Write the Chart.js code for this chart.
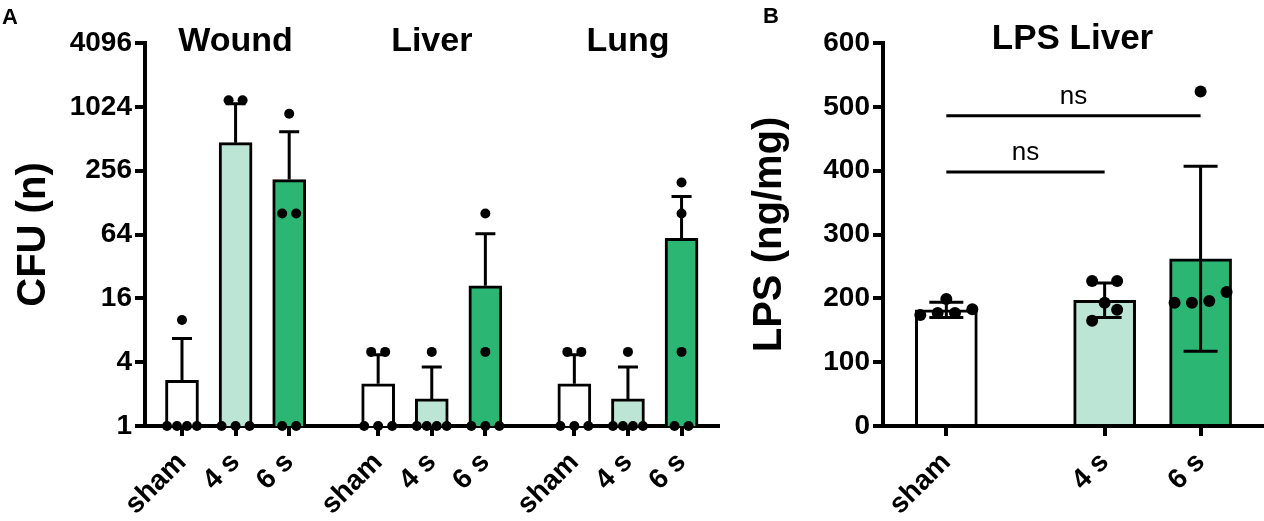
<!DOCTYPE html>
<html>
<head>
<meta charset="utf-8">
<script src="https://cdn.jsdelivr.net/npm/chart.js@4.4.1/dist/chart.umd.min.js"></script>
<style>
  html, body { margin: 0; padding: 0; background: #fff; }
  body { width: 1264px; height: 521px; position: relative; overflow: hidden; }
  canvas { position: absolute; top: 0; }
  #chartA { left: 0; }
  #chartB { left: 745px; }
</style>
</head>
<body>
<canvas id="chartA" width="735" height="521"></canvas>
<canvas id="chartB" width="519" height="521"></canvas>
<script>
// ---- data (A: CFU, log2 axis) ----
const cfuGroups = ['Wound', 'Liver', 'Lung'];
const treatments = ['sham', '4 s', '6 s'];
const cfuMean = [2.7, 470, 211, 2.5, 1.8, 21, 2.5, 1.8, 59];
const cfuUpper = [6.7, 1097, 596, 4.7, 3.6, 65, 4.7, 3.6, 146];
const cfuPoints = [
    [10, 1, 1, 1, 1], [1180, 1180, 1, 1, 1], [880, 101, 101, 1, 1],
    [5, 5, 1, 1, 1], [5, 1, 1, 1, 1], [101, 5, 1, 1, 1],
    [5, 5, 1, 1, 1], [5, 1, 1, 1, 1], [198, 101, 5, 1, 1]
];
const cfuTicks = [1, 4, 16, 64, 256, 1024, 4096];

// ---- data (B: LPS liver) ----
const lpsMean = [182, 197, 262];
const lpsSd = [12, 27, 145];
const lpsPoints = [
    [174, 183, 199, 177, 177],
    [227, 227, 193, 182, 165],
    [193, 210, 193, 196, 524]
];
const sigFrom = [0, 0];
const sigTo = [1, 2];
const sigLevel = [398, 486];
const sigText = ['ns', 'ns'];

// ---- layout ----
const FONT = '"Liberation Sans", Arial, Helvetica, sans-serif';
const fills = ['#ffffff', '#bde5d6', '#2bb673'];
const groupStep = 3.66;
const xPosA = [];
cfuGroups.forEach((g, gi) => treatments.forEach((t, ti) => xPosA.push(gi * groupStep + ti)));
const labelsA = xPosA.map((_, i) => treatments[i % 3]);
const xPosB = [0, 1.65, 2.65];

Chart.defaults.font.family = FONT;
Chart.defaults.color = '#000';

// beeswarm: rows of points that would overlap are spread sideways
function swarm(values, yScale, diam, gap, spread) {
    const items = values.map(v => ({ py: yScale.getPixelForValue(v) })).sort((a, b) => b.py - a.py);
    const rows = [];
    items.forEach(it => {
        const row = rows[rows.length - 1];
        if (row && Math.abs(row[0].py - it.py) < diam) row.push(it); else rows.push([it]);
    });
    const out = [];
    rows.forEach(row => {
        const n = row.length;
        const step = n > 1 ? Math.min(gap, spread / (n - 1)) : 0;
        row.forEach((it, k) => out.push({ dx: (k - (n - 1) / 2) * step, py: it.py }));
    });
    return out;
}

function overlayPlugin(cfg) {
    return {
        id: 'overlay',
        afterDraw(chart) {
            const { ctx, chartArea } = chart;
            const xs = chart.scales.x, ys = chart.scales.y;
            ctx.save();
            ctx.strokeStyle = '#000';
            ctx.fillStyle = '#000';
            ctx.lineWidth = 3;
            ctx.lineCap = 'butt';
            // error bars
            cfg.xPos.forEach((xv, i) => {
                const x = xs.getPixelForValue(xv);
                const hi = ys.getPixelForValue(cfg.upper[i]);
                const lo = ys.getPixelForValue(cfg.lower[i]);
                const w = cfg.capWidth / 2;
                ctx.beginPath();
                ctx.moveTo(x, lo); ctx.lineTo(x, hi);
                ctx.moveTo(x - w, hi); ctx.lineTo(x + w, hi);
                if (cfg.lowerCap) { ctx.moveTo(x - w, lo); ctx.lineTo(x + w, lo); }
                ctx.stroke();
            });
            // individual points
            cfg.xPos.forEach((xv, i) => {
                const x = xs.getPixelForValue(xv);
                swarm(cfg.points[i], ys, cfg.radius * 2, cfg.gap, cfg.spread).forEach(p => {
                    ctx.beginPath();
                    ctx.arc(x + p.dx, p.py, cfg.radius, 0, Math.PI * 2);
                    ctx.fill();
                });
            });
            // significance lines
            (cfg.sig || []).forEach(s => {
                const x1 = xs.getPixelForValue(cfg.xPos[s.from]);
                const x2 = xs.getPixelForValue(cfg.xPos[s.to]);
                const y = ys.getPixelForValue(s.level);
                ctx.beginPath();
                ctx.moveTo(x1, y); ctx.lineTo(x2, y);
                ctx.stroke();
                ctx.font = '26px ' + FONT;
                ctx.textAlign = 'center';
                ctx.textBaseline = 'alphabetic';
                ctx.fillText(s.text, (x1 + x2) / 2, y - 12);
            });
            // titles
            ctx.font = 'bold ' + cfg.titleSize + 'px ' + FONT;
            ctx.textAlign = 'center';
            ctx.textBaseline = 'alphabetic';
            cfg.titles.forEach(t => {
                const x = t.x === undefined ? (chartArea.left + chartArea.right) / 2 : xs.getPixelForValue(t.x);
                ctx.fillText(t.text, x, cfg.titleBaseline);
            });
            // panel letter
            ctx.font = 'bold 22px ' + FONT;
            ctx.textAlign = 'left';
            ctx.fillText(cfg.panel.text, cfg.panel.x, cfg.panel.y);
            ctx.restore();
        }
    };
}

function axisStyle() {
    return {
        offset: false,
        grid: { offset: false, drawOnChartArea: false, color: '#000', lineWidth: 4, tickLength: 10 },
        border: { color: '#000', width: 4 }
    };
}

// ---- Panel A ----
new Chart(document.getElementById('chartA'), {
    type: 'bar',
    data: {
        datasets: [{
            data: cfuMean.map((v, i) => ({ x: xPosA[i], y: v })),
            backgroundColor: xPosA.map((_, i) => fills[i % 3]),
            borderColor: '#000',
            borderWidth: 3,
            borderSkipped: 'start',
            barThickness: 33
        }]
    },
    options: {
        responsive: false,
        animation: false,
        events: [],
        layout: { padding: { top: 43, right: 17, left: 0, bottom: 0 } },
        plugins: { legend: { display: false }, tooltip: { enabled: false } },
        scales: {
            x: Object.assign(axisStyle(), {
                type: 'linear', min: -0.69, max: 10.0, z: 1,
                afterBuildTicks: s => { s.ticks = xPosA.map(v => ({ value: v })); },
                afterFit: s => { s.height = 95; },
                ticks: {
                    autoSkip: false, minRotation: 45, maxRotation: 45, padding: 10,
                    callback: (v, i) => labelsA[i],
                    font: { size: 28, weight: 'bold' }
                }
            }),
            y: Object.assign(axisStyle(), {
                type: 'logarithmic', min: 1, max: 4096,
                afterBuildTicks: s => { s.ticks = cfuTicks.map(v => ({ value: v })); },
                afterFit: s => { s.width = 145; },
                ticks: { callback: v => String(v), padding: 3, font: { size: 28, weight: 'bold' } },
                title: { display: true, text: 'CFU (n)', font: { size: 40, weight: 'bold' }, padding: { top: 10, bottom: 0 } }
            })
        }
    },
    plugins: [overlayPlugin({
        xPos: xPosA,
        upper: cfuUpper,
        lower: cfuMean,
        lowerCap: false,
        capWidth: 20,
        points: cfuPoints,
        radius: 5, gap: 14, spread: 30,
        titles: cfuGroups.map((g, gi) => ({ text: g, x: xPosA[gi * 3 + 1] })),
        titleSize: 34, titleBaseline: 51,
        panel: { text: 'A', x: 2, y: 24 }
    })]
});

// ---- Panel B ----
new Chart(document.getElementById('chartB'), {
    type: 'bar',
    data: {
        datasets: [{
            data: lpsMean.map((v, i) => ({ x: xPosB[i], y: v })),
            backgroundColor: fills,
            borderColor: '#000',
            borderWidth: 3,
            borderSkipped: 'start',
            barThickness: 62
        }]
    },
    options: {
        responsive: false,
        animation: false,
        events: [],
        layout: { padding: { top: 43, right: 2, left: 0, bottom: 0 } },
        plugins: { legend: { display: false }, tooltip: { enabled: false } },
        scales: {
            x: Object.assign(axisStyle(), {
                type: 'linear', min: -0.66, max: 3.29, z: 1,
                afterBuildTicks: s => { s.ticks = xPosB.map(v => ({ value: v })); },
                afterFit: s => { s.height = 95; },
                ticks: {
                    autoSkip: false, minRotation: 45, maxRotation: 45, padding: 10,
                    callback: (v, i) => treatments[i],
                    font: { size: 28, weight: 'bold' }
                }
            }),
            y: Object.assign(axisStyle(), {
                type: 'linear', min: 0, max: 600,
                afterFit: s => { s.width = 138; },
                ticks: { stepSize: 100, padding: 3, font: { size: 28, weight: 'bold' } },
                title: { display: true, text: 'LPS (ng/mg)', font: { size: 40, weight: 'bold' }, padding: { top: 1, bottom: 0 } }
            })
        }
    },
    plugins: [overlayPlugin({
        xPos: xPosB,
        upper: lpsMean.map((m, i) => m + lpsSd[i]),
        lower: lpsMean.map((m, i) => m - lpsSd[i]),
        lowerCap: true,
        capWidth: 34,
        points: lpsPoints,
        radius: 6, gap: 25, spread: 52,
        sig: sigFrom.map((f, i) => ({ from: f, to: sigTo[i], level: sigLevel[i], text: sigText[i] })),
        titles: [{ text: 'LPS Liver' }],
        titleSize: 35, titleBaseline: 49,
        panel: { text: 'B', x: 18, y: 23 }
    })]
});
</script>
</body>
</html>
